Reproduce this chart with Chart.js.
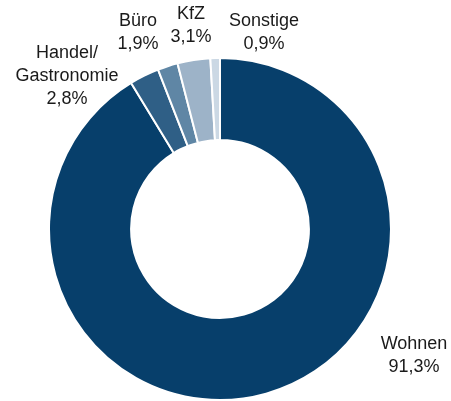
<!DOCTYPE html>
<html><head><meta charset="utf-8">
<script src="https://cdn.jsdelivr.net/npm/chart.js@4"></script>
<style>html,body{margin:0;padding:0;background:#fff;}#wrap{width:451px;height:401px;position:relative;}</style>
</head><body><div id="wrap"><canvas id="c" width="451" height="401"></canvas></div>
<script>
const categories = ["Wohnen", "Handel/\nGastronomie", "Büro", "KfZ", "Sonstige"];
const values = [91.3, 2.8, 1.9, 3.1, 0.9];
const valueLabels = ["91,3%", "2,8%", "1,9%", "3,1%", "0,9%"];
const colors = ["#073f6b", "#2f5f86", "#5f86a5", "#9db3c8", "#cbd8e4"];
const labelPos = [[414, 344], [67, 53], [138, 21], [191, 14], [264, 21]];

const labelPlugin = {
  id: 'labels',
  afterDraw(chart) {
    const ctx = chart.ctx;
    ctx.save();
    ctx.font = '18px "Liberation Sans", Arial, sans-serif';
    ctx.fillStyle = '#1a1a1a';
    ctx.textAlign = 'center';
    ctx.textBaseline = 'middle';
    categories.forEach((c, i) => {
      const lines = c.split("\n").concat([valueLabels[i]]);
      const [x, y] = labelPos[i];
      lines.forEach((l, j) => ctx.fillText(l, x, y + j * 23));
    });
    ctx.restore();
  }
};

new Chart(document.getElementById('c'), {
  type: 'doughnut',
  data: { labels: categories, datasets: [{ data: values, backgroundColor: colors, borderColor: '#ffffff', borderWidth: 2 }] },
  options: {
    responsive: false, animation: false, cutout: '52%',
    layout: { padding: { top: 57, bottom: -4, left: 0, right: 11 } },
    plugins: { legend: { display: false }, tooltip: { enabled: false } }
  },
  plugins: [labelPlugin]
});
</script></body></html>
